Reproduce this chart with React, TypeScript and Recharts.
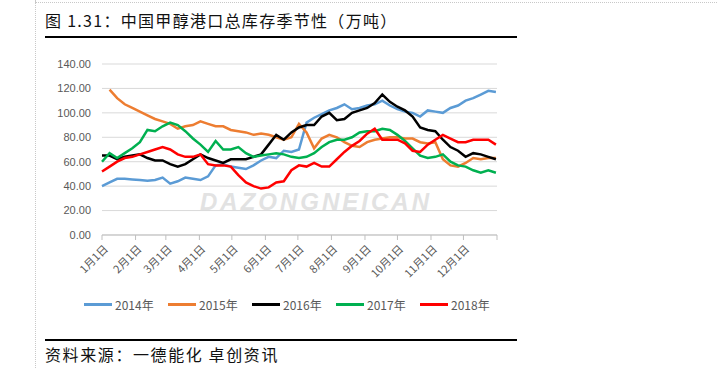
import React from 'react'
import { LineChart, Line, XAxis, YAxis, CartesianGrid } from 'recharts'

// 每周一个点（第 i 周 = 第 i*7 天）
const y2014 = [40, 43, 46, 46, 45.5, 45, 44.5, 45, 47, 42, 44, 47, 46, 45, 48, 57, 58, 56, 55, 54, 57, 61, 64, 63, 69, 68, 70, 92, 96, 99, 102, 104, 107, 103, 104, 106, 107, 110, 106, 103, 101, 100, 97, 102, 101, 100, 104, 106, 110, 112, 115, 118, 117]
const y2015 = [null, 119, 112, 107, 104, 101, 98, 95, 93, 91, 87, 89, 90, 93, 91, 89, 89, 86, 85, 84, 82, 83, 82, 80, 78, 80, 91, 84, 71, 79, 82, 80, 76, 73, 72, 76, 78, 79, 80, 80, 79, 79, 76, 75, 76, 62, 57, 56, 59, 63, 62, 63, 63]
const y2016 = [65, 65, 62, 64, 65, 66, 63, 61, 61, 58, 56, 58, 62, 66, 63, 61, 59, 62, 62, 62, 64, 66, 74, 82, 78, 84, 88, 90, 90, 97, 100, 94, 95, 100, 102, 104, 108, 115, 109, 105, 102, 97, 88, 86, 85, 78, 72, 69, 64, 67, 66, 64, 62]
const y2017 = [60, 67, 63, 67, 71, 76, 86, 85, 89, 92, 90, 85, 79, 74, 68, 77, 70, 70, 72, 67, 64, 65, 66, 67, 66, 64, 63, 64, 67, 72, 76, 78, 78, 80, 84, 85, 85, 87, 86, 82, 77, 71, 65, 63, 64, 66, 60, 57, 56, 53, 51, 53, 51]
const y2018 = [52, 56, 60, 63, 64, 66, 68, 70, 72, 70, 66, 64, 64, 66, 58, 57, 57, 56, 49, 43, 40, 38, 39, 43, 44, 53, 57, 56, 59, 56, 56, 62, 68, 73, 77, 83, 87, 78, 78, 78, 75, 69, 68, 74, 78, 82, 79, 76, 76, 78, 78, 78, 74]

const monthDays = [0, 31, 59, 90, 120, 151, 181, 212, 243, 273, 304, 334, 365]
const monthLabels = ['1月1日', '2月1日', '3月1日', '4月1日', '5月1日', '6月1日', '7月1日', '8月1日', '9月1日', '10月1日', '11月1日', '12月1日', '']
const yTicks = [0, 20, 40, 60, 80, 100, 120, 140]

const series = [
  { key: 'y2014', name: '2014年', color: '#5B9BD5', values: y2014 },
  { key: 'y2015', name: '2015年', color: '#ED7D31', values: y2015 },
  { key: 'y2016', name: '2016年', color: '#000000', values: y2016 },
  { key: 'y2017', name: '2017年', color: '#00B050', values: y2017 },
  { key: 'y2018', name: '2018年', color: '#FF0000', values: y2018 },
]

const data = y2014.map((_, i) => {
  const row: Record<string, number | null> = { day: i * 7 }
  series.forEach(s => { row[s.key] = s.values[i] })
  return row
})

const tickFont = '"Liberation Sans", Arial, sans-serif'
const cjkFont = '"Noto Sans CJK SC", "Noto Sans", sans-serif'

const MonthTick = (props: any) => {
  const { x, y, payload } = props
  const label = monthLabels[monthDays.indexOf(payload.value)]
  const tx = x + 4
  const ty = y + 5
  return (
    <text
      x={tx}
      y={ty}
      transform={`rotate(-45 ${tx} ${ty})`}
      textAnchor="end"
      dy="0.35em"
      fontSize={11}
      fill="#595959"
      fontFamily={cjkFont}
    >
      {label}
    </text>
  )
}

export default function App() {
  return (
    <div style={{ position: 'absolute', left: 0, top: 0, width: 717, height: 368, background: '#fff', overflow: 'hidden' }}>
      {/* page border */}
      <div style={{ position: 'absolute', left: 35, top: 0, width: 0, height: 368, borderLeft: '1px dotted #c8c8c8' }} />
      <div style={{ position: 'absolute', left: 35, top: 2, width: 682, height: 0, borderTop: '1px dotted #c8c8c8' }} />

      <div style={{ position: 'absolute', left: 45, top: 9, fontFamily: cjkFont, fontSize: 16, letterSpacing: 1.3, color: '#111', whiteSpace: 'nowrap', lineHeight: '22px' }}>
        图 1.31：中国甲醇港口总库存季节性（万吨）
      </div>
      <div style={{ position: 'absolute', left: 45, top: 36, width: 472, height: 2, background: '#000' }} />

      {/* watermark */}
      <div style={{ position: 'absolute', left: 200, top: 188, fontFamily: tickFont, fontSize: 24, fontWeight: 'bold', fontStyle: 'italic', color: '#e2e2e2', letterSpacing: 3 }}>
        DAZONGNEICAN
      </div>

      <div style={{ position: 'absolute', left: 0, top: 0 }}>
        <LineChart width={717} height={368} data={data} margin={{ top: 64, right: 220, bottom: 83, left: 42 }}>
          <CartesianGrid vertical={false} stroke="#d9d9d9" />
          <XAxis
            dataKey="day"
            type="number"
            domain={[0, 365]}
            ticks={monthDays}
            interval={0}
            height={50}
            stroke="#bfbfbf"
            tickSize={5}
            tickMargin={2}
            tick={<MonthTick />}
          />
          <YAxis
            domain={[0, 140]}
            ticks={yTicks}
            width={60}
            axisLine={false}
            tickLine={false}
            tickSize={0}
            tickMargin={11}
            tickFormatter={(v: number) => v.toFixed(2)}
            tick={{ fontSize: 11, fill: '#595959', fontFamily: tickFont }}
          />
          {series.map(s => (
            <Line
              key={s.key}
              dataKey={s.key}
              name={s.name}
              stroke={s.color}
              strokeWidth={2.5}
              dot={false}
              type="linear"
              isAnimationActive={false}
            />
          ))}
        </LineChart>
      </div>

      {/* legend */}
      {series.map((s, i) => (
        <div key={s.key} style={{ position: 'absolute', left: 84 + i * 84, top: 296, display: 'flex', alignItems: 'center', fontFamily: cjkFont, fontSize: 12, color: '#595959', whiteSpace: 'nowrap' }}>
          <span style={{ display: 'inline-block', width: 28, height: 3, background: s.color, marginRight: 3 }} />
          {s.name}
        </div>
      ))}

      <div style={{ position: 'absolute', left: 45, top: 339, width: 472, height: 2, background: '#000' }} />
      <div style={{ position: 'absolute', left: 45, top: 343, fontFamily: cjkFont, fontSize: 16, letterSpacing: 1.6, color: '#111', whiteSpace: 'nowrap', lineHeight: '22px' }}>
        资料来源：一德能化 卓创资讯
      </div>
    </div>
  )
}
